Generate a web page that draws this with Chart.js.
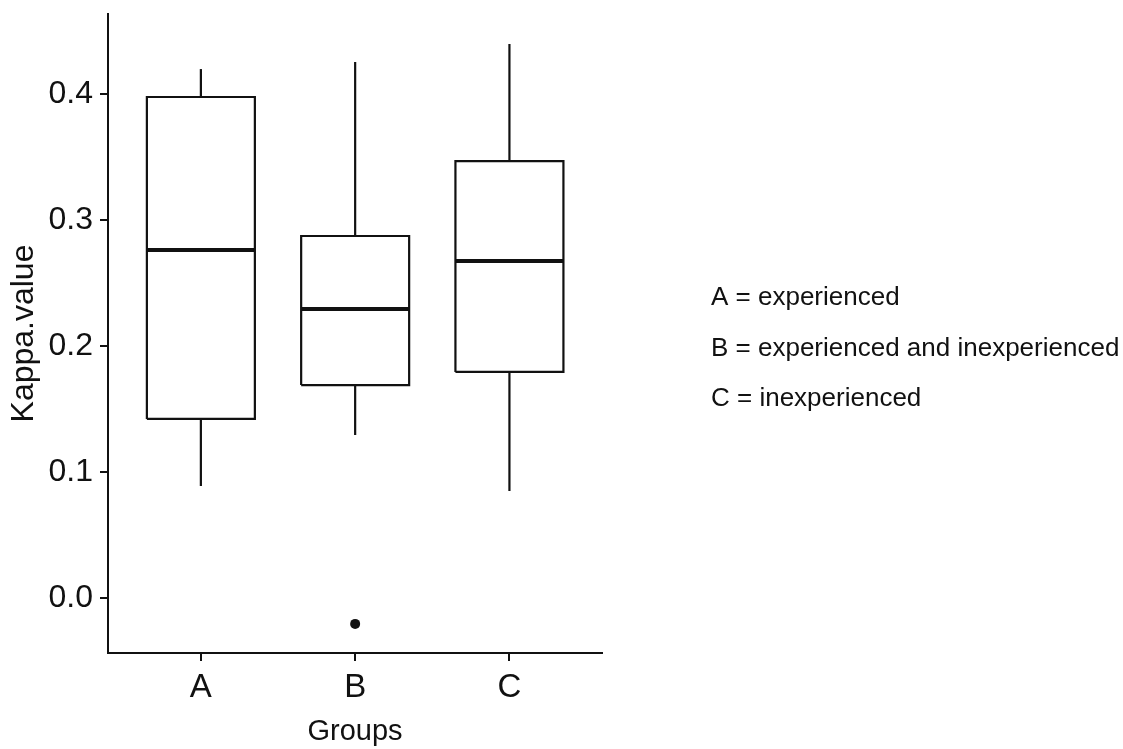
<!DOCTYPE html>
<html>
<head>
<meta charset="utf-8">
<script src="https://cdn.jsdelivr.net/npm/chart.js@4"></script>
<style>
  html, body { margin: 0; padding: 0; background: #ffffff; }
  #wrap { width: 1123px; height: 749px; position: relative; }
</style>
</head>
<body>
<div id="wrap"><canvas id="chart"></canvas></div>
<script>
// Box-plot statistics of Kappa values per rater group
const categories   = ['A', 'B', 'C'];
const whiskerLow   = [0.0889, 0.1294, 0.0849];
const lowerQuart   = [0.1421, 0.1690, 0.1794];
const medians      = [0.2762, 0.2294, 0.2675];
const upperQuart   = [0.3976, 0.2873, 0.3468];
const whiskerHigh  = [0.4198, 0.4254, 0.4397];
const outliers     = [[], [-0.0206], []];
const yTicks       = [0.0, 0.1, 0.2, 0.3, 0.4];
const legendLines  = ['A = experienced', 'B = experienced and inexperienced', 'C = inexperienced'];

const INK = '#111111';
const FONT = "'Liberation Sans', Arial, sans-serif";
const BOX_W = 0.7;

const lineDs = (points, width) => ({
  data: points,
  showLine: true,
  borderColor: INK,
  borderWidth: width,
  pointRadius: 0,
  tension: 0,
  fill: false,
  borderJoinStyle: 'miter',
  borderCapStyle: 'butt'
});

const datasets = [];
categories.forEach((c, i) => {
  const x = i + 1, l = x - BOX_W / 2, r = x + BOX_W / 2;
  // box
  datasets.push(lineDs([
    {x: l, y: lowerQuart[i]}, {x: l, y: upperQuart[i]},
    {x: r, y: upperQuart[i]}, {x: r, y: lowerQuart[i]},
    {x: l, y: lowerQuart[i]}
  ], 2.2));
  // whiskers
  datasets.push(lineDs([{x: x, y: upperQuart[i]}, {x: x, y: whiskerHigh[i]}], 2.2));
  datasets.push(lineDs([{x: x, y: lowerQuart[i]}, {x: x, y: whiskerLow[i]}], 2.2));
  // median
  datasets.push(lineDs([{x: l, y: medians[i]}, {x: r, y: medians[i]}], 4));
  // outliers
  if (outliers[i].length) {
    datasets.push({
      data: outliers[i].map(v => ({x: x, y: v})),
      showLine: false,
      pointRadius: 5,
      pointBackgroundColor: INK,
      pointBorderColor: INK,
      pointBorderWidth: 0
    });
  }
});

// Text key to the right of the plot
const keyText = {
  id: 'keyText',
  afterDraw(chart) {
    const ctx = chart.ctx;
    ctx.save();
    ctx.font = '26px ' + FONT;
    ctx.fillStyle = INK;
    ctx.textAlign = 'left';
    ctx.textBaseline = 'alphabetic';
    legendLines.forEach((t, k) => {
      ctx.fillText(t, 711, 305 + k * 50.5);
    });
    ctx.restore();
  }
};

new Chart(document.getElementById('chart'), {
  type: 'scatter',
  data: { datasets },
  plugins: [keyText],
  options: {
    responsive: true,
    maintainAspectRatio: false,
    animation: false,
    events: [],
    layout: { padding: { left: 0, top: 14, right: 521, bottom: 0 } },
    plugins: { legend: { display: false }, tooltip: { enabled: false } },
    scales: {
      x: {
        type: 'linear',
        min: 0.398, max: 3.6,
        afterBuildTicks: s => { s.ticks = categories.map((c, i) => ({ value: i + 1 })); },
        afterFit: s => { s.height = 96; s.paddingLeft = 0; s.paddingRight = 0; },
        ticks: {
          callback: v => categories[v - 1],
          font: { family: FONT, size: 33 },
          color: INK,
          padding: 7,
          maxRotation: 0
        },
        grid: { display: true, drawOnChartArea: false, drawTicks: true, tickLength: 8, color: INK, lineWidth: 2 },
        border: { display: true, color: INK, width: 2 },
        title: {
          display: true, text: 'Groups',
          font: { family: FONT, size: 29 },
          color: INK,
          padding: { top: 0, bottom: 0 }
        }
      },
      y: {
        type: 'linear',
        min: -0.0437, max: 0.4635,
        afterBuildTicks: s => { s.ticks = yTicks.map(v => ({ value: v })); },
        afterFit: s => { s.width = 108; s.paddingTop = 0; s.paddingBottom = 0; },
        ticks: {
          callback: v => v.toFixed(1),
          font: { family: FONT, size: 32 },
          color: INK,
          padding: 7
        },
        grid: { display: true, drawOnChartArea: false, drawTicks: true, tickLength: 8, color: INK, lineWidth: 2 },
        border: { display: true, color: INK, width: 2 },
        title: {
          display: true, text: 'Kappa.value',
          font: { family: FONT, size: 32 },
          color: INK,
          padding: { top: 5, bottom: 0 }
        }
      }
    }
  }
});
</script>
</body>
</html>
